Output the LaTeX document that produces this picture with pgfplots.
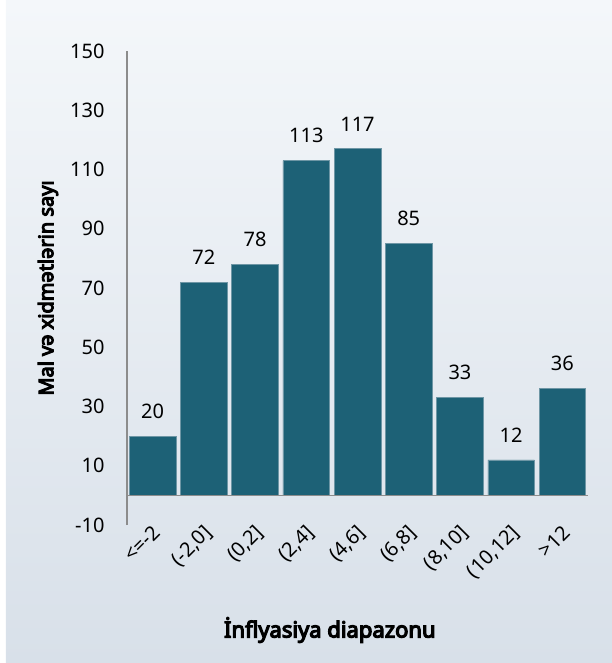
\documentclass[border=0pt]{standalone}
\usepackage{pgfplots}
\pgfplotsset{compat=1.18}
\usepackage{fontspec}
\setmainfont{Noto Sans}[AutoFakeBold=5.5]
\definecolor{barc}{RGB}{29,97,118}
\definecolor{baredge}{RGB}{110,150,165}
\definecolor{bgtop}{RGB}{244,247,250}
\definecolor{bgbot}{RGB}{216,224,233}
\definecolor{axc}{RGB}{140,140,140}
\begin{document}
\begin{tikzpicture}
\useasboundingbox (-127pt,-138pt) rectangle (485pt,525pt);
\shade[top color=bgtop, bottom color=bgbot] (-121pt,524pt) rectangle (485pt,-138pt);
\begin{axis}[
  at={(0pt,0pt)}, anchor=south west,
  scale only axis, width=461pt, height=474pt,
  xmin=-0.5, xmax=8.5, ymin=-10, ymax=150,
  axis y line=left, axis x line=bottom,
  x axis line style={draw=none,-},
  y axis line style={-, draw=axc, line width=1.5pt},
  major tick length=0pt,
  ytick={-10,10,...,150},
  xtick={0,...,8},
  xticklabels={{<=-2},{(-2,0]},{(0,2]},{(2,4]},{(4,6]},{(6,8]},{(8,10]},{(10,12]},{>12}},
  xticklabel style={rotate=45, anchor=north east, font=\fontsize{20}{22}\selectfont, inner sep=1pt, xshift=1pt, yshift=3pt},
  yticklabel style={font=\fontsize{20}{22}\selectfont, xshift=-19pt},
  /pgf/number format/assume math mode=true,
  ybar, bar width=0.91,
  bar shift=0pt,
  nodes near coords,
  every node near coord/.append style={font=\fontsize{20}{22}\selectfont, yshift=14pt, black},
  xlabel={\textbf{İnflyasiya diapazonu}},
  ylabel={\textbf{Mal və xidmətlərin sayı}},
  xlabel style={at={(axis description cs:0.44,0)}, anchor=center, yshift=-105pt, font=\fontsize{22}{24}\selectfont},
  ylabel style={at={(axis description cs:0,0.5)}, anchor=center, yshift=79pt, font=\fontsize{20}{22}\selectfont},
  clip=false,
]
\addplot[fill=barc, draw=baredge, line width=0.6pt] coordinates {
(0,20) (1,72) (2,78) (3,113) (4,117) (5,85) (6,33) (7,12) (8,36)};
\draw[axc, line width=1.5pt] (axis cs:-0.5,0) -- (axis cs:8.5,0);
\end{axis}
\end{tikzpicture}
\end{document}
